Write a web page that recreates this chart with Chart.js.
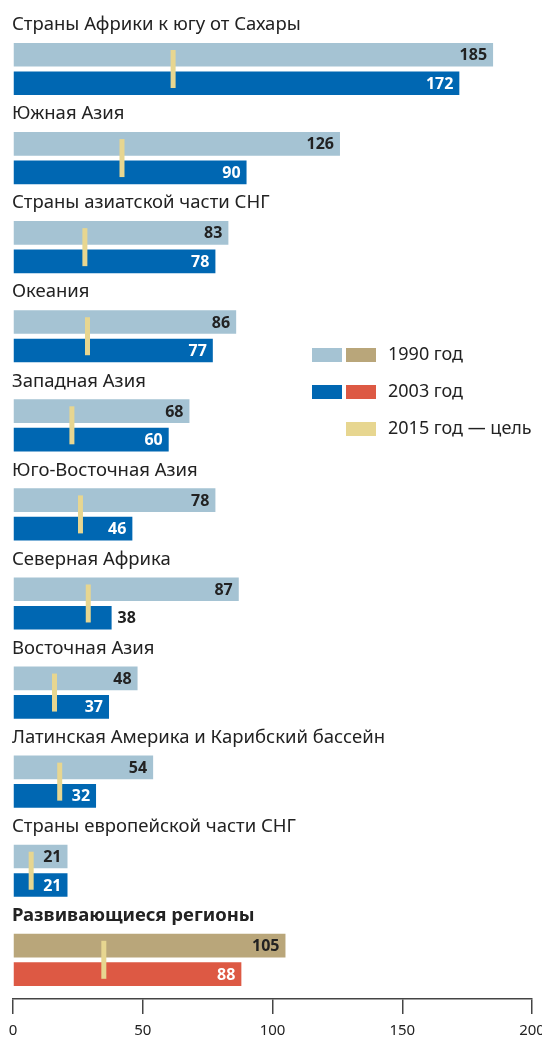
<!DOCTYPE html>
<html lang="ru">
<head>
  <meta charset="UTF-8">
  <title>chart</title>
  <style>
    body { margin: 0; background: #fff; }
  </style>
</head>
<body>
  <canvas id="myChart" width="542" height="1039"></canvas>

  <script src="https://cdn.jsdelivr.net/npm/chart.js"></script>
  <script>
    const regions = [
      'Страны Африки к югу от Сахары',
      'Южная Азия',
      'Страны азиатской части СНГ',
      'Океания',
      'Западная Азия',
      'Юго-Восточная Азия',
      'Северная Африка',
      'Восточная Азия',
      'Латинская Америка и Карибский бассейн',
      'Страны европейской части СНГ',
      'Развивающиеся регионы'
    ]
    const y1990 = [185, 126, 83, 86, 68, 78, 87, 48, 54, 21, 105]
    const y2003 = [172, 90, 78, 77, 60, 46, 38, 37, 32, 21, 88]
    const goal2015 = [61.7, 42, 27.7, 28.7, 22.7, 26, 29, 16, 18, 7, 35]
    const xTicks = [0, 50, 100, 150, 200]
    const legendLabels = ['1990 год', '2003 год', '2015 год — цель']

    const LIGHT = '#a5c3d3', BLUE = '#0067b2', TAN = '#b9a67a', RED = '#dd5944', GOAL = '#e7d690'
    const last = regions.length - 1
    const font = '"Noto Sans", sans-serif'

    // points on a linear y axis: index of region
    const pts = arr => arr.map((v, i) => ({ x: v, y: i }))

    const extras = {
      id: 'extras',
      afterDatasetsDraw(chart) {
        const c = chart.ctx
        const ys = chart.scales.y, xs = chart.scales.x
        c.save()
        // region titles
        c.textBaseline = 'middle'
        c.textAlign = 'left'
        regions.forEach((r, i) => {
          c.font = (i === last ? 'bold ' : '') + '18.5px ' + font
          c.fillStyle = '#222'
          c.fillText(r, 12, ys.getPixelForValue(i) - 44)
        })
        // values on bars
        c.font = 'bold 16px ' + font
        ;[0, 1].forEach(d => {
          const meta = chart.getDatasetMeta(d + 1)
          const vals = d === 0 ? y1990 : y2003
          meta.data.forEach((bar, i) => {
            const txt = String(vals[i])
            const w = c.measureText(txt).width
            const gx = xs.getPixelForValue(goal2015[i])
            const inside = !(gx > bar.x - 6 - w - 4 && gx < bar.x)
            if (inside) {
              c.textAlign = 'right'
              c.fillStyle = d === 0 ? '#222' : '#fff'
              c.fillText(txt, bar.x - 6, bar.y + 1)
            } else {
              c.textAlign = 'left'
              c.fillStyle = '#222'
              c.fillText(txt, bar.x + 6, bar.y + 1)
            }
          })
        })
        // legend
        c.font = '18px ' + font
        c.textAlign = 'left'
        const rows = [[LIGHT, TAN], [BLUE, RED], [null, GOAL]]
        rows.forEach((cols, r) => {
          const cy = 355 + r * 37
          if (cols[0]) { c.fillStyle = cols[0]; c.fillRect(312, cy - 7, 30, 14) }
          c.fillStyle = cols[1]; c.fillRect(346, cy - 7, 30, 14)
          c.fillStyle = '#222'
          c.fillText(legendLabels[r], 388, cy)
        })
        c.restore()
      }
    }

    const ctx = document.getElementById('myChart')
    new Chart(ctx, {
      type: 'bar',
      data: {
        datasets: [
          {
            type: 'line',
            label: legendLabels[2],
            data: pts(goal2015),
            showLine: false,
            pointStyle: 'line',
            rotation: 90,
            radius: 19,
            borderWidth: 5,
            borderColor: GOAL,
            order: 0
          },
          {
            label: legendLabels[0],
            data: pts(y1990),
            backgroundColor: c => c.dataIndex === last ? TAN : LIGHT,
            order: 1
          },
          {
            label: legendLabels[1],
            data: pts(y2003),
            backgroundColor: c => c.dataIndex === last ? RED : BLUE,
            order: 2
          }
        ]
      },
      options: {
        indexAxis: 'y',
        responsive: false,
        animation: false,
        events: [],
        categoryPercentage: 0.64,
        barPercentage: 0.83,
        layout: { autoPadding: false, padding: { top: 15, left: 13, right: 10, bottom: 0 } },
        plugins: { legend: { display: false }, tooltip: { enabled: false } },
        scales: {
          y: {
            type: 'linear',
            reverse: true,
            offset: false,
            min: -0.606,
            max: 10.44,
            display: false,
            ticks: { stepSize: 1, includeBounds: false }
          },
          x: {
            min: 0,
            max: 200,
            afterBuildTicks: s => { s.ticks = xTicks.map(v => ({ value: v })) },
            afterFit: s => { s.paddingLeft = 0; s.paddingRight = 0; s.height = 40 },
            grid: { drawOnChartArea: false, tickLength: 15, color: '#444', lineWidth: 1.5 },
            border: { color: '#444', width: 1.5 },
            ticks: { padding: 8, color: '#222', font: { family: font, size: 15 }, maxRotation: 0 }
          }
        }
      },
      plugins: [extras]
    })
  </script>
</body>
</html>
